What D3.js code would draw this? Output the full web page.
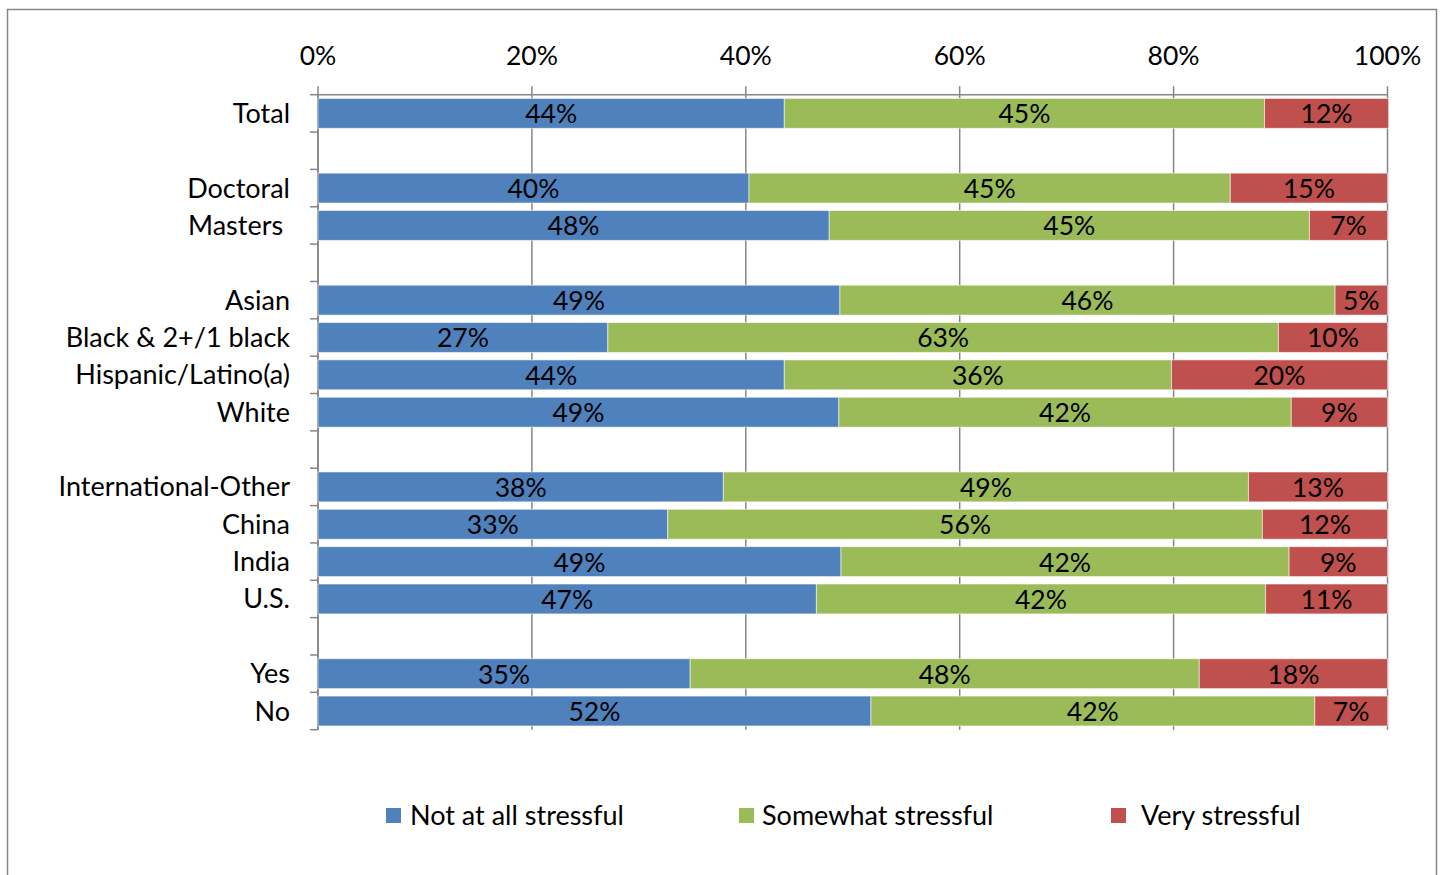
<!DOCTYPE html>
<html>
<head>
<meta charset="utf-8">
<script src="https://cdn.jsdelivr.net/npm/d3@7"></script>
<style>
  html, body { margin: 0; padding: 0; background: #fff; }
  svg { display: block; font-family: Lato, "Open Sans", sans-serif; }
</style>
</head>
<body>
<svg id="chart" width="1443" height="875"></svg>
<script>
// Row labels (blank entries are spacer rows between groups)
const categories = ["Total", "", "Doctoral", "Masters ", "", "Asian", "Black & 2+/1 black",
  "Hispanic/Latino(a)", "White", "", "International-Other", "China", "India", "U.S.", "", "Yes", "No"];

// Share of respondents (%) per row for each response
const notAtAll  = [43.6, null, 40.3, 47.8, null, 48.8, 27.1, 43.6, 48.7, null, 37.9, 32.7, 48.9, 46.6, null, 34.8, 51.7];
const somewhat  = [44.9, null, 45.0, 44.9, null, 46.3, 62.7, 36.2, 42.3, null, 49.1, 55.6, 41.9, 42.0, null, 47.6, 41.5];
const very      = [11.6, null, 14.7,  7.3, null,  4.9, 10.2, 20.2,  9.0, null, 13.0, 11.7,  9.2, 11.4, null, 17.6,  6.8];

const seriesNames = ["Not at all stressful", "Somewhat stressful", "Very stressful"];
const seriesColors = ["#4F81BD", "#9BBB59", "#C0504D"];
const tickValues = [0, 20, 40, 60, 80, 100];

const svg = d3.select("#chart");
const plot = { left: 318, right: 1387.5, top: 94.7, bottom: 729.7 };

// Build a table for the stack layout
const keys = ["a", "b", "c"];
const rows = categories.map((c, i) => ({
  idx: i, label: c, blank: notAtAll[i] === null,
  a: notAtAll[i] || 0, b: somewhat[i] || 0, c: very[i] || 0
}));
const stacked = d3.stack().keys(keys)(rows);

const x = d3.scaleLinear().domain([0, 100]).range([plot.left, plot.right]);
const y = d3.scaleBand().domain(d3.range(categories.length))
  .range([plot.top, plot.bottom]).paddingInner(0.2).paddingOuter(0.1);

const gridColor = "#868686";
const labelSize = 27;
const valueSize = 26.5;

// Chart frame
svg.append("rect")
  .attr("x", 7.5).attr("y", 9.5).attr("width", 1429).attr("height", 880)
  .attr("fill", "none").attr("stroke", gridColor).attr("stroke-width", 1.5);

// Vertical gridlines (also act as the top axis ticks)
svg.append("g").selectAll("line").data(tickValues).join("line")
  .attr("x1", d => x(d)).attr("x2", d => x(d))
  .attr("y1", plot.top - 8.5).attr("y2", plot.bottom)
  .attr("stroke", gridColor).attr("stroke-width", 1.5);

// Top axis line
svg.append("line")
  .attr("x1", plot.left).attr("x2", plot.right)
  .attr("y1", plot.top).attr("y2", plot.top)
  .attr("stroke", gridColor).attr("stroke-width", 1.5);

// Top axis labels
svg.append("g").selectAll("text").data(tickValues).join("text")
  .attr("x", d => x(d)).attr("y", 65)
  .attr("text-anchor", "middle")
  .attr("font-size", valueSize).attr("fill", "#000")
  .text(d => d + "%");

// Left category axis with ticks between rows
const step = y.step();
const boundaries = d3.range(categories.length + 1).map(i => plot.top + i * step);
svg.append("line")
  .attr("x1", plot.left).attr("x2", plot.left)
  .attr("y1", plot.top).attr("y2", plot.bottom)
  .attr("stroke", gridColor).attr("stroke-width", 1.5);
svg.append("g").selectAll("line").data(boundaries).join("line")
  .attr("x1", plot.left - 8).attr("x2", plot.left)
  .attr("y1", d => d).attr("y2", d => d)
  .attr("stroke", gridColor).attr("stroke-width", 1.5);

// Category labels
svg.append("g").selectAll("text").data(rows.filter(r => !r.blank)).join("text")
  .attr("x", 290).attr("y", d => y(d.idx) + y.bandwidth() / 2 + 9.5)
  .attr("text-anchor", "end")
  .style("white-space", "pre")
  .attr("font-size", labelSize).attr("fill", "#000")
  .text(d => d.label);

// Stacked bars
const layers = svg.append("g").selectAll("g").data(stacked).join("g")
  .attr("fill", (d, i) => seriesColors[i]);

layers.selectAll("rect").data(d => d.filter(p => !p.data.blank)).join("rect")
  .attr("x", d => x(d[0]))
  .attr("y", d => y(d.data.idx))
  .attr("width", d => x(d[1]) - x(d[0]))
  .attr("height", y.bandwidth())
  .attr("stroke", "#ffffff").attr("stroke-opacity", 0.55).attr("stroke-width", 1);

// Value labels centred on each segment
const fmt = d3.format(".0f");
layers.selectAll("text").data(d => d.filter(p => !p.data.blank)).join("text")
  .attr("x", d => (x(d[0]) + x(d[1])) / 2)
  .attr("y", d => y(d.data.idx) + y.bandwidth() / 2 + 10)
  .attr("text-anchor", "middle")
  .attr("font-size", valueSize).attr("fill", "#000")
  .text(d => fmt(d[1] - d[0]) + "%");

// Legend
const legendX = [386, 739, 1111];
const legendTextX = [410, 762, 1141];
const legend = svg.append("g").selectAll("g").data(seriesNames).join("g");
legend.append("rect")
  .attr("x", (d, i) => legendX[i]).attr("y", 808)
  .attr("width", 15).attr("height", 15)
  .attr("fill", (d, i) => seriesColors[i]);
legend.append("text")
  .attr("x", (d, i) => legendTextX[i]).attr("y", 825)
  .attr("font-size", labelSize).attr("fill", "#000")
  .text(d => d);
</script>
</body>
</html>
